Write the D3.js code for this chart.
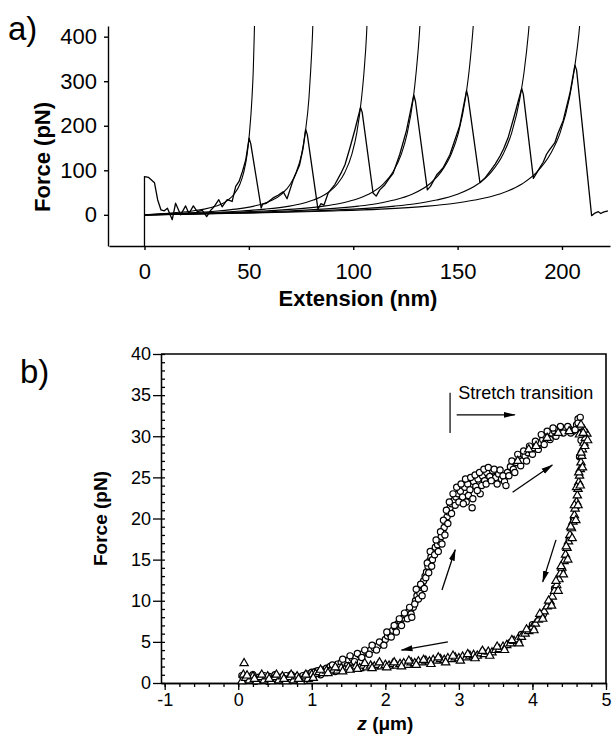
<!DOCTYPE html>
<html>
<head>
<meta charset="utf-8">
<script src="https://cdn.jsdelivr.net/npm/d3@7"></script>
<style>
  body { margin: 0; background: #fff; }
  svg text { font-family: "Liberation Sans", Arial, Helvetica, sans-serif; fill: #000; }
</style>
</head>
<body>
<div id="chart"></div>
<script>
// ---- panel a : force-extension sawtooth ----
var traceA = [[0,-70],[0,86],[2,84],[4.8,72],[6.3,34],[7.9,11],[9.5,9],[11,15],[13.3,-11],[14.9,26],[17.3,0],[19.7,20],
  [21.3,3],[23.4,20],[25.3,7],[27.7,10],[29.8,-4],[31.7,10],[33.3,18],[35.6,34],[37.2,18],[39.6,34],[42,30],[43.7,64],
  [45.3,75],[46.9,97],[48.5,123],[50.1,172],[50.9,160],[55.9,15],[56.6,24],[58.4,26],[61.6,38],[64,44],[66.4,52],
  [68.3,36],[71.2,78],[74.3,112],[76,150],[77.2,192],[78,180],[83.1,13],[84.5,25],[86,22],[88,49],[91.2,68],[94.4,96],
  [96,112],[98.4,150],[100.8,191],[103.5,241],[104.3,230],[109.5,49],[111,42],[112.7,56],[115.1,67],[117,80],[119.1,93],
  [122.3,136],[125.5,189],[129,269],[129.8,255],[135.5,56],[137,64],[140,90],[141.6,98],[143,105],[146.3,135],[151,200],
  [154.3,279],[155,265],[160.7,72],[163,82],[166.2,102],[168,114],[170.3,132],[172,148],[174.3,175],[177.5,228],[180.7,284],
  [181.5,270],[186.3,82],[189.4,106],[191,118],[192.6,136],[194,146],[196.6,162],[198,182],[200.6,212],[203.8,273],
  [206.2,336],[207,325],[214.2,-2],[215.8,4],[217.4,7],[218.6,3],[219.8,6],[222,9]];

// worm-like-chain fit lines, one per unfolded domain
var fit1 = [[0,0],[5.7,1.6],[11.4,3.5],[17.2,5.7],[22.9,8.7],[28.6,12.8],[34.3,19.6],[37.2,25],[40,33.1],[42.9,46.1],[45.8,69.7],[47.5,94.6],[49.2,137],[50.3,184],[51.5,263],[52.1,323],[52.6,407],[52.9,462]];
var fit2 = [[0,0],[8.8,1.6],[17.5,3.5],[26.3,5.7],[35,8.7],[43.8,12.8],[52.5,19.6],[56.9,25],[61.3,33.1],[65.6,46.1],[70,69.7],[72.6,94.6],[75.3,137],[77,184],[78.8,263],[79.6,323],[80.5,407],[80.9,462]];
var fit3 = [[0,0],[11.6,1.6],[23.1,3.5],[34.7,5.7],[46.2,8.7],[57.8,12.8],[69.4,19.6],[75.1,25],[80.9,33.1],[86.7,46.1],[92.5,69.7],[95.9,94.6],[99.4,137],[101.7,184],[104,263],[105.2,323],[106.4,407],[106.9,462]];
var fit4 = [[0,0],[14.3,1.6],[28.6,3.5],[42.9,5.7],[57.2,8.7],[71.6,12.8],[85.9,19.6],[93,25],[100.2,33.1],[107.3,46.1],[114.5,69.7],[118.8,94.6],[123.1,137],[125.9,184],[128.8,263],[130.2,323],[131.7,407],[132.4,462]];
var fit5 = [[0,0],[17.1,1.6],[34.2,3.5],[51.3,5.7],[68.4,8.7],[85.5,12.8],[102.5,19.6],[111.1,25],[119.6,33.1],[128.2,46.1],[136.7,69.7],[141.8,94.6],[147,137],[150.4,184],[153.8,263],[155.5,323],[157.2,407],[158.1,462]];
var fit6 = [[0,0],[20,1.6],[40,3.5],[60,5.7],[80,8.7],[100,12.8],[119.9,19.6],[129.9,25],[139.9,33.1],[149.9,46.1],[159.9,69.7],[165.9,94.6],[171.9,137],[175.9,184],[179.9,263],[181.9,323],[183.9,407],[184.9,462]];
var fit7 = [[0,0],[22.6,1.6],[45.2,3.5],[67.9,5.7],[90.5,8.7],[113.1,12.8],[135.7,19.6],[147,25],[158.3,33.1],[169.7,46.1],[181,69.7],[187.7,94.6],[194.5,137],[199.1,184],[203.6,263],[205.8,323],[208.1,407],[209.2,462]];
var fitsA = [fit1, fit2, fit3, fit4, fit5, fit6, fit7];

var ticksAx = [0, 50, 100, 150, 200];
var ticksAy = [0, 100, 200, 300, 400];

// ---- panel b : stretch (circles) / relax (triangles) cycle ----
var stretchPts = [[0.05,0.9],[0.12,0.8],[0.2,1.0],[0.28,0.7],[0.35,0.9],[0.42,0.8],[0.5,1.0],[0.58,0.7],[0.65,0.9],[0.72,1.0],
  [0.8,0.8],[0.88,0.9],[0.95,1.1],[1.0,1.3],[1.05,1.4],[1.1,1.2],[1.15,1.6],[1.2,1.8],[1.25,2.0],[1.3,1.7],[1.35,2.3],[1.4,2.5],
  [1.45,2.4],[1.5,2.8],[1.55,3.0],[1.6,3.1],[1.65,3.4],[1.7,3.6],[1.75,3.8],[1.8,4.0],[1.85,4.3],[1.9,4.5],[1.95,4.8],[2.0,5.3],
  [2.03,5.7],[2.06,6.0],[2.1,6.4],[2.13,6.8],[2.17,7.2],[2.2,7.5],[2.24,7.9],[2.28,8.2],[2.31,8.6],[2.35,8.4],[2.38,9.2],
  [2.41,10.0],[2.43,10.6],[2.45,11.3],[2.47,10.9],[2.5,11.8],[2.52,12.4],[2.54,13.0],[2.56,13.5],[2.58,14.2],[2.6,14.8],
  [2.62,15.3],[2.64,15.0],[2.66,16.1],[2.68,16.5],[2.71,16.8],[2.74,17.2],[2.76,17.8],[2.78,18.5],[2.8,18.9],[2.82,19.6],
  [2.84,20.2],[2.86,20.8],[2.88,21.3],[2.9,21.8],[2.93,22.2],[2.96,22.6],[2.99,23.0],[3.02,23.3],[3.05,22.6],[3.08,23.8],
  [3.1,22.0],[3.12,24.2],[3.15,23.5],[3.18,21.3],[3.2,24.5],[3.23,23.9],[3.26,24.8],[3.29,23.0],[3.32,25.2],[3.35,24.6],
  [3.38,25.6],[3.42,25.1],[3.46,25.8],[3.5,25.0],[3.54,25.4],[3.58,24.8],[3.62,24.5],[3.66,25.6],[3.7,26.3],[3.74,26.0],
  [3.78,26.8],[3.82,27.2],[3.86,27.0],[3.9,27.6],[3.94,28.0],[3.98,28.3],[4.02,28.6],[4.06,29.0],[4.1,29.2],[4.14,29.6],
  [4.18,30.0],[4.22,30.2],[4.26,30.4],[4.3,30.6],[4.35,30.8],[4.4,31.0],[4.45,30.8],[4.5,30.9],[4.55,30.6],[4.6,31.4],
  [4.62,32.1],[4.64,31.0],[4.66,30.5],
  [0.08,0.3],[0.16,0.5],[0.24,0.2],[0.32,0.4],[0.4,0.2],[0.48,0.5],[0.56,0.3],[0.64,0.5],[0.72,0.3],[0.8,0.4],[0.9,0.3],
  [1.02,0.9],[1.08,1.5],[1.12,1.0],[1.18,1.3],[1.22,1.5],[1.28,2.2],[1.32,1.4],[1.38,1.9],[1.42,2.9],[1.48,2.1],[1.52,3.3],
  [1.58,2.6],[1.62,3.6],[1.68,3.1],[1.72,4.0],[1.78,3.5],[1.82,4.6],[1.88,4.0],[1.92,5.0],[1.98,4.6],[2.02,6.2],[2.08,5.6],
  [2.12,7.0],[2.15,6.2],[2.19,7.8],[2.22,7.0],[2.26,8.5],[2.3,7.8],[2.33,9.2],[2.36,8.0],[2.4,9.6],[2.42,11.4],
  [2.45,10.2],[2.48,12.0],[2.5,10.6],[2.53,11.5],[2.55,12.8],[2.57,14.6],[2.59,13.4],[2.61,16.0],[2.63,14.2],[2.67,15.6],
  [2.69,17.4],[2.72,16.0],[2.75,18.4],[2.77,16.9],[2.79,19.8],[2.81,18.0],[2.83,21.0],[2.85,19.4],[2.87,22.0],[2.9,20.6],
  [2.92,23.0],[2.95,21.6],[2.97,23.8],[3.0,22.0],[3.03,24.2],[3.06,21.8],[3.09,24.8],[3.13,22.8],[3.16,25.0],[3.19,22.4],
  [3.22,25.3],[3.25,23.4],[3.28,25.6],[3.31,24.0],[3.34,26.0],[3.37,24.2],[3.4,26.2],[3.44,24.6],[3.48,26.0],[3.52,24.2],
  [3.56,25.9],[3.6,25.2],[3.64,24.0],[3.68,25.2],[3.72,27.0],[3.76,25.6],[3.8,27.8],[3.84,26.4],[3.88,28.2],[3.92,27.0],
  [3.96,28.8],[4.0,27.8],[4.04,29.4],[4.08,28.4],[4.12,30.2],[4.16,29.0],[4.2,30.6],[4.24,29.6],[4.28,31.0],[4.32,30.0],
  [4.38,31.2],[4.42,30.4],[4.48,31.2],[4.52,30.4],[4.58,30.8],[4.62,31.6],[4.65,32.3],
  [3.7,4.9],[3.85,5.9],[4.0,7.1],[4.15,8.4],[4.3,11.5],[4.4,13.5],[4.5,17.5],[4.56,20.0],[4.6,21.5],[4.62,24.0],[4.64,27.5],[4.66,29.5]];

var relaxPts = [[0.05,0.2],[0.07,1.0],[0.08,2.4],[0.1,0.6],[0.15,0.3],[0.2,0.8],[0.25,0.2],[0.3,0.7],[0.35,0.3],[0.4,0.8],
  [0.45,0.2],[0.5,0.7],[0.55,0.3],[0.6,0.8],[0.65,0.2],[0.7,0.7],[0.75,0.3],[0.8,0.8],[0.85,0.2],[0.9,0.8],[0.95,0.5],
  [1.0,1.0],[1.05,1.1],[1.1,1.3],[1.15,1.2],[1.2,1.5],[1.25,1.4],[1.3,1.6],[1.35,1.5],[1.4,1.8],[1.45,1.6],[1.5,1.9],
  [1.55,1.7],[1.6,2.0],[1.65,1.8],[1.7,2.1],[1.75,1.9],[1.8,2.1],[1.85,2.0],[1.9,2.2],[1.95,2.0],[2.0,2.2],[2.05,2.1],
  [2.1,2.3],[2.15,2.1],[2.2,2.3],[2.25,2.4],[2.3,2.2],[2.35,2.5],[2.4,2.4],[2.45,2.6],[2.5,2.5],[2.55,2.7],[2.6,2.6],
  [2.65,2.8],[2.7,2.7],[2.75,2.9],[2.8,2.8],[2.85,3.0],[2.9,2.9],[2.95,3.1],[3.0,3.0],[3.05,3.2],[3.1,3.1],[3.15,3.3],
  [3.2,3.4],[3.25,3.3],[3.3,3.6],[3.35,3.5],[3.4,3.8],[3.45,3.7],[3.5,4.0],[3.55,4.1],[3.6,4.4],[3.65,4.6],[3.7,4.8],
  [3.75,5.1],[3.8,5.3],[3.85,5.6],[3.9,6.0],[3.95,6.3],[4.0,6.8],[4.04,7.2],[4.08,7.7],[4.12,8.2],[4.16,8.7],[4.2,9.3],
  [4.24,9.9],[4.27,10.5],[4.3,11.2],[4.33,11.9],[4.36,12.6],[4.38,13.3],[4.4,14.0],[4.43,14.8],[4.45,15.6],[4.47,16.4],
  [4.49,17.2],[4.51,18.0],[4.53,18.8],[4.55,19.6],[4.57,20.4],[4.58,21.2],[4.6,22.0],[4.61,22.8],[4.62,23.6],[4.63,24.4],
  [4.64,25.2],[4.65,26.0],[4.66,26.8],[4.67,27.6],[4.68,28.4],[4.7,29.2],[4.72,29.8],[4.74,30.3],[4.7,30.8],[4.66,31.4],[4.64,30.2],
  [0.12,0.9],[0.22,0.5],[0.32,1.0],[0.42,0.5],[0.52,1.0],[0.62,0.5],[0.72,1.0],[0.82,0.5],[0.92,1.0],
  [1.02,0.6],[1.12,1.6],[1.22,1.2],[1.32,1.9],[1.42,1.4],[1.52,1.6],[1.62,1.7],[1.72,2.4],[1.82,1.8],[1.92,2.5],[2.02,1.9],
  [2.12,2.5],[2.22,2.0],[2.32,2.7],[2.42,2.2],[2.52,2.8],[2.62,2.3],[2.72,3.1],[2.82,2.5],[2.92,3.3],[3.02,2.7],[3.12,3.5],
  [3.22,3.0],[3.32,3.9],[3.42,3.3],[3.52,4.4],[3.62,4.0],[3.72,5.2],[3.82,4.8],[3.92,6.5],[4.02,6.4],[4.1,8.4],[4.14,7.8],
  [4.22,10.0],[4.26,9.4],[4.32,12.4],[4.35,11.2],[4.39,14.2],[4.42,13.2],[4.46,16.6],[4.48,15.0],[4.52,19.0],[4.54,17.6],
  [4.57,21.6],[4.59,19.8],[4.6,23.8],[4.62,21.6],[4.63,25.6],[4.65,24.0],[4.66,28.0],[4.68,26.2],[4.69,30.4],[4.71,28.8],[4.75,29.5],
  [3.8,27.0],[3.95,28.4],[4.05,28.8],[4.2,29.8],[4.35,30.4],[4.5,30.6]];

var ticksBx = [-1, 0, 1, 2, 3, 4, 5];
var ticksBy = [0, 5, 10, 15, 20, 25, 30, 35, 40];
// direction arrows: [z0, F0, z1, F1]
var arrowsB = [[2.97,32.6,3.76,32.6],[3.73,23.2,4.27,26.5],[2.77,11.3,2.95,16.2],[4.32,17.4,4.14,12.3],[2.85,5.0,2.22,4.0]];

var width = 615, height = 738;
var fontFam = '"Liberation Sans", Arial, Helvetica, sans-serif';

var svg = d3.select('#chart').append('svg')
    .attr('width', width)
    .attr('height', height);

var defs = svg.append('defs');
defs.append('marker')
    .attr('id', 'head')
    .attr('viewBox', '0 -4 12 8')
    .attr('refX', 11)
    .attr('refY', 0)
    .attr('markerUnits', 'userSpaceOnUse')
    .attr('markerWidth', 12)
    .attr('markerHeight', 8)
    .attr('orient', 'auto')
    .append('path')
    .attr('d', 'M0,-3L12,0L0,3Z')
    .attr('fill', '#000');

// ================= panel a =================
var xa = d3.scaleLinear().domain([-17, 223]).range([109, 610]);
var ya = d3.scaleLinear().domain([-70, 424]).range([246, 26]);

defs.append('clipPath').attr('id', 'clipA')
    .append('rect')
    .attr('x', xa.range()[0]).attr('y', ya.range()[1])
    .attr('width', xa.range()[1] - xa.range()[0])
    .attr('height', ya.range()[0] - ya.range()[1]);

var gA = svg.append('g');

var lineA = d3.line()
    .x(function(d) { return xa(d[0]); })
    .y(function(d) { return ya(d[1]); });

var fitLine = d3.line()
    .x(function(d) { return xa(d[0]); })
    .y(function(d) { return ya(d[1]); })
    .curve(d3.curveMonotoneX);

var plotA = gA.append('g').attr('clip-path', 'url(#clipA)');

plotA.selectAll('path.fit')
    .data(fitsA)
    .enter().append('path')
    .attr('class', 'fit')
    .attr('d', fitLine)
    .attr('fill', 'none')
    .attr('stroke', '#000')
    .attr('stroke-width', 1.1);

plotA.append('path')
    .datum(traceA)
    .attr('d', lineA)
    .attr('fill', 'none')
    .attr('stroke', '#000')
    .attr('stroke-width', 1.3)
    .attr('stroke-linejoin', 'round');

var xAxisA = d3.axisBottom(xa).tickValues(ticksAx).tickSize(4).tickSizeOuter(0).tickPadding(13);
var yAxisA = d3.axisLeft(ya).tickValues(ticksAy).tickSize(4).tickSizeOuter(0).tickPadding(7);

gA.append('g')
    .attr('transform', 'translate(0,' + ya.range()[0] + ')')
    .call(xAxisA)
    .attr('font-family', fontFam)
    .attr('font-size', 22);

gA.append('g')
    .attr('transform', 'translate(' + (xa.range()[0] - 1) + ',0)')
    .call(yAxisA)
    .attr('font-family', fontFam)
    .attr('font-size', 22);

gA.selectAll('.domain, .tick line').attr('stroke', '#000').attr('stroke-width', 1.4);

gA.append('text')
    .attr('transform', 'translate(50,' + ya(130) + ') rotate(-90)')
    .attr('text-anchor', 'middle')
    .attr('font-size', 22)
    .attr('font-weight', 'bold')
    .text('Force (pN)');

gA.append('text')
    .attr('x', 358)
    .attr('y', 306)
    .attr('text-anchor', 'middle')
    .attr('font-size', 22)
    .attr('font-weight', 'bold')
    .text('Extension (nm)');

svg.append('text')
    .attr('x', 8)
    .attr('y', 40)
    .attr('font-size', 33)
    .text('a)');

// ================= panel b =================
var xb = d3.scaleLinear().domain([-1.05, 5]).range([161, 606]);
var yb = d3.scaleLinear().domain([0, 40]).range([683, 354]);

var gB = svg.append('g');

// frame top and right
gB.append('path')
    .attr('d', 'M' + xb(-1.05) + ',' + yb(40) + 'H' + xb(5) + 'V' + yb(0))
    .attr('fill', 'none')
    .attr('stroke', '#000')
    .attr('stroke-width', 1.6);

// minor ticks
gB.append('g')
    .attr('transform', 'translate(' + xb(-1.05) + ',0)')
    .call(d3.axisLeft(yb).tickValues(d3.range(0, 41, 1)).tickSize(-4).tickFormat('').tickSizeOuter(0));
gB.append('g')
    .attr('transform', 'translate(0,' + yb(0) + ')')
    .call(d3.axisBottom(xb).tickValues(d3.range(-1, 5.01, 0.2)).tickSize(4).tickFormat('').tickSizeOuter(0));

gB.append('g')
    .attr('transform', 'translate(' + xb(-1.05) + ',0)')
    .call(d3.axisLeft(yb).tickValues(ticksBy).tickSize(8).tickSizeOuter(0).tickPadding(2)
        .tickFormat(function(d) { return String(d); }))
    .attr('font-family', fontFam)
    .attr('font-size', 18);

gB.append('g')
    .attr('transform', 'translate(0,' + yb(0) + ')')
    .call(d3.axisBottom(xb).tickValues(ticksBx).tickSize(7).tickSizeOuter(0).tickPadding(3)
        .tickFormat(function(d) { return String(d); }))
    .attr('font-family', fontFam)
    .attr('font-size', 18);

gB.selectAll('.domain, .tick line').attr('stroke', '#000').attr('stroke-width', 1.3);

// data markers
var symTri = d3.symbol().type(d3.symbolTriangle).size(30);

gB.append('g').selectAll('circle')
    .data(stretchPts)
    .enter().append('circle')
    .attr('cx', function(d) { return xb(d[0]); })
    .attr('cy', function(d) { return yb(d[1]); })
    .attr('r', 3.1)
    .attr('fill', '#fff')
    .attr('stroke', '#000')
    .attr('stroke-width', 1.2);

gB.append('g').selectAll('path')
    .data(relaxPts)
    .enter().append('path')
    .attr('d', symTri)
    .attr('transform', function(d) { return 'translate(' + xb(d[0]) + ',' + yb(d[1]) + ')'; })
    .attr('fill', '#fff')
    .attr('stroke', '#000')
    .attr('stroke-width', 1.2);

// arrows
gB.append('g').selectAll('line')
    .data(arrowsB)
    .enter().append('line')
    .attr('x1', function(d) { return xb(d[0]); })
    .attr('y1', function(d) { return yb(d[1]); })
    .attr('x2', function(d) { return xb(d[2]); })
    .attr('y2', function(d) { return yb(d[3]); })
    .attr('stroke', '#000')
    .attr('stroke-width', 1.3)
    .attr('marker-end', 'url(#head)');

// stretch transition marker
gB.append('line')
    .attr('x1', xb(2.88)).attr('x2', xb(2.88))
    .attr('y1', yb(35.3)).attr('y2', yb(30.4))
    .attr('stroke', '#000')
    .attr('stroke-width', 1.2);

gB.append('text')
    .attr('x', xb(2.99))
    .attr('y', 399)
    .attr('font-size', 18)
    .text('Stretch transition');

gB.append('text')
    .attr('transform', 'translate(107,' + yb(20) + ') rotate(-90)')
    .attr('text-anchor', 'middle')
    .attr('font-size', 19)
    .attr('font-weight', 'bold')
    .text('Force (pN)');

var zLab = gB.append('text')
    .attr('x', xb(2.0))
    .attr('y', 730)
    .attr('text-anchor', 'middle')
    .attr('font-size', 19)
    .attr('font-weight', 'bold');
zLab.append('tspan').attr('font-style', 'italic').text('z');
zLab.append('tspan').text(' (\u03bcm)');

svg.append('text')
    .attr('x', 20)
    .attr('y', 383)
    .attr('font-size', 33)
    .text('b)');
</script>
</body>
</html>
